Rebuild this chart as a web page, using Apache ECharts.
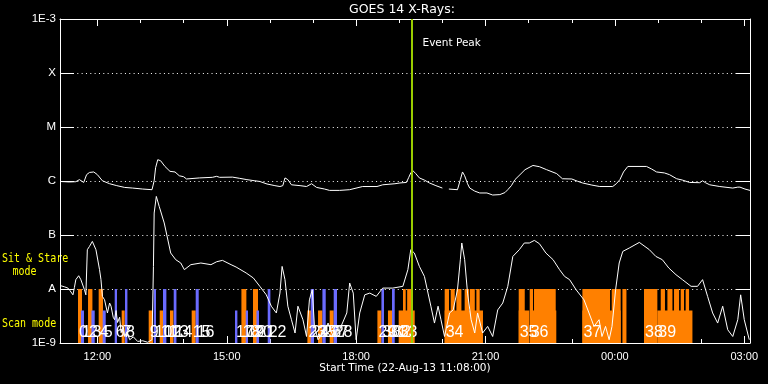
<!DOCTYPE html>
<html><head><meta charset="utf-8">
<script src="https://cdn.jsdelivr.net/npm/echarts@6/dist/echarts.min.js"></script>
<style>html,body{margin:0;padding:0;background:#000;}#c{width:768px;height:384px;}</style>
</head><body><div id="c"></div>
<script>
// time values are minutes after 00:00 on 22-Aug-13
const axisStart = 668;   // 11:08
const axisEnd = 1628;    // 03:08 next day
const majorTicks = [720, 900, 1080, 1260, 1440, 1620];
const minorTicks = [720,780,840,900,960,1020,1080,1140,1200,1260,1320,1380,1440,1500,1560,1620];
const yLevelNames = ['1E-9','A','B','C','M','X','1E-3'];
const eventPeak = 1157;

// GOES long channel (1-8 A), W/m^2
const longTimes = [668,681,690,695,701,705,709,715,720,727,737,747,758,769,783,796,798,799,801,804,808,814,821,828,834,840,844,862,880,886,890,908,918,928,939,946,956,967,974,978,981,985,990,1002,1011,1018,1025,1036,1043,1057,1071,1072,1089,1109,1117,1134,1141,1150,1153,1156,1159,1163,1168,1175,1182,1191,1200,1204,1209,1221,1225,1228,1231,1235,1238,1245,1252,1262,1270,1280,1287,1291,1296,1301,1308,1315,1326,1335,1345,1359,1367,1380,1388,1395,1408,1419,1437,1442,1447,1452,1458,1468,1484,1491,1498,1509,1516,1526,1534,1544,1558,1562,1566,1572,1586,1604,1611,1614,1621,1628];
const longFlux = [0.98e-6,0.96e-6,0.97e-6,1.06e-6,0.94e-6,1.31e-6,1.44e-6,1.47e-6,1.31e-6,1.01e-6,0.89e-6,0.82e-6,0.76e-6,0.74e-6,0.71e-6,0.69e-6,0.69e-6,1.01e-6,1.76e-6,2.48e-6,2.37e-6,1.86e-6,1.51e-6,1.47e-6,1.25e-6,1.20e-6,1.09e-6,1.14e-6,1.17e-6,1.22e-6,1.17e-6,1.18e-6,1.12e-6,1.06e-6,1.01e-6,0.98e-6,0.88e-6,0.82e-6,0.79e-6,0.82e-6,1.14e-6,1.06e-6,0.85e-6,0.82e-6,0.79e-6,0.89e-6,0.76e-6,0.71e-6,0.67e-6,0.67e-6,0.69e-6,0.75e-6,0.79e-6,0.79e-6,0.85e-6,0.89e-6,0.92e-6,0.94e-6,1.15e-6,1.41e-6,1.55e-6,1.37e-6,1.14e-6,1.04e-6,0.92e-6,0.82e-6,0.74e-6,null,0.71e-6,0.69e-6,1.06e-6,1.47e-6,1.25e-6,0.89e-6,0.74e-6,0.65e-6,0.60e-6,0.60e-6,0.55e-6,0.56e-6,0.61e-6,0.69e-6,0.82e-6,1.06e-6,1.31e-6,1.62e-6,1.94e-6,1.84e-6,1.62e-6,1.37e-6,1.10e-6,1.09e-6,0.99e-6,0.92e-6,0.84e-6,0.79e-6,0.79e-6,0.89e-6,1.06e-6,1.47e-6,1.86e-6,1.86e-6,1.86e-6,1.67e-6,1.47e-6,1.41e-6,1.31e-6,1.10e-6,1.04e-6,0.94e-6,0.93e-6,1.01e-6,0.93e-6,0.85e-6,0.79e-6,0.74e-6,0.77e-6,0.77e-6,0.71e-6,0.67e-6];

// GOES short channel (0.5-4 A), W/m^2
const shortTimes = [669,674,679,682,686,688,690,694,697,702,704,706,709,713,718,723,725,727,730,734,737,739,742,744,746,748,751,753,756,758,761,765,770,776,783,790,796,798,799,802,806,813,822,829,836,841,850,864,878,886,894,906,913,927,937,946,955,962,969,974,977,981,985,990,995,999,1006,1011,1015,1019,1022,1027,1034,1041,1048,1057,1067,1071,1076,1080,1085,1092,1099,1108,1117,1131,1145,1152,1156,1161,1168,1175,1180,1184,1189,1194,1198,1203,1210,1215,1221,1225,1227,1231,1235,1240,1245,1249,1256,1263,1270,1277,1284,1291,1298,1307,1314,1321,1328,1335,1344,1354,1363,1370,1377,1386,1397,1404,1411,1418,1422,1427,1432,1436,1441,1446,1451,1460,1474,1488,1497,1506,1515,1525,1534,1546,1555,1562,1569,1576,1583,1590,1597,1604,1611,1615,1620,1627];
const shortFlux = [1.15e-8,1.10e-8,1.04e-8,0.93e-8,0.78e-8,1.06e-8,1.49e-8,1.76e-8,1.49e-8,0.97e-8,0.78e-8,5.34e-8,6.15e-8,7.61e-8,5.34e-8,2.28e-8,1.49e-8,0.73e-8,0.63e-8,0.36e-8,0.55e-8,0.48e-8,0.30e-8,0.27e-8,0.40e-8,0.24e-8,0.30e-8,0.155e-8,0.20e-8,0.132e-8,0.16e-8,0.115e-8,0.13e-8,0.107e-8,0.11e-8,0.103e-8,0.115e-8,2.62e-8,25.5e-8,51.8e-8,33.9e-8,16.7e-8,4.64e-8,3.49e-8,3.03e-8,2.28e-8,2.82e-8,3.03e-8,2.82e-8,3.20e-8,3.39e-8,2.82e-8,2.55e-8,1.98e-8,1.60e-8,1.12e-8,0.78e-8,0.48e-8,0.36e-8,0.84e-8,2.62e-8,1.49e-8,0.48e-8,0.27e-8,0.153e-8,0.48e-8,0.27e-8,0.132e-8,0.63e-8,0.97e-8,0.203e-8,0.115e-8,0.153e-8,0.234e-8,0.132e-8,0.176e-8,0.36e-8,1.29e-8,0.84e-8,0.115e-8,0.36e-8,0.78e-8,0.84e-8,0.73e-8,1.04e-8,1.04e-8,1.12e-8,2.28e-8,5.34e-8,4.64e-8,2.62e-8,1.71e-8,0.84e-8,0.48e-8,0.234e-8,0.48e-8,0.27e-8,0.132e-8,0.36e-8,0.41e-8,0.97e-8,3.49e-8,7.11e-8,3.49e-8,0.84e-8,0.27e-8,0.153e-8,0.36e-8,0.153e-8,0.203e-8,0.132e-8,0.41e-8,0.55e-8,1.12e-8,4.01e-8,5.34e-8,7.11e-8,7.11e-8,7.94e-8,6.90e-8,4.64e-8,3.49e-8,2.28e-8,1.71e-8,1.49e-8,0.97e-8,0.63e-8,0.36e-8,0.203e-8,0.27e-8,0.132e-8,0.203e-8,0.115e-8,0.203e-8,0.97e-8,3.03e-8,4.97e-8,5.74e-8,7.29e-8,5.34e-8,4.01e-8,3.49e-8,2.45e-8,1.84e-8,1.49e-8,1.12e-8,1.12e-8,1.49e-8,0.73e-8,0.36e-8,0.234e-8,0.48e-8,0.176e-8,0.132e-8,0.27e-8,0.78e-8,0.27e-8,0.115e-8];

// observation bars
const barStart = [693,697.2,707,711.7,721.8,727.4,744.1,753.8,758.4,791.4,798.4,806.7,811.3,821,826.2,851.2,856.8,911.5,920.4,926.4,936.5,941.3,957,1012.2,1016.8,1027,1033.1,1043.2,1048.8,1109.6,1115.2,1124.3,1129.9,1139.2,1145.2,1151,1203.2,1203.2,1211.6,1219.5,1231,1238.1,1247.3,1306.2,1306.2,1321.5,1321.5,1327.5,1394.8,1394.8,1435.6,1450.5,1480.5,1499.1,1503.8,1513.1,1522.3,1531.6,1538.5];
const barEnd   = [698.6,701.4,713.1,716.3,727.8,731.6,747.3,758,761.8,797.4,801.6,811.3,816,825.8,830,856.8,861,914.8,927.3,929.6,943.5,944.9,960.7,1017.8,1021.4,1033.1,1037.7,1048.8,1053.4,1115.2,1118.8,1129.9,1133.7,1161.5,1149,1158,1256.5,1209.2,1217.2,1226.5,1237,1245.1,1251.9,1320.6,1314.6,1358.5,1326.1,1357.7,1448.1,1433.3,1448.1,1456.1,1499.1,1547.9,1509.7,1520.1,1529.3,1536.2,1543.2];
const barMode  = ['stare','scan','stare','scan','stare','scan','stare','scan','stare','scan','stare','scan','stare','scan','stare','scan','stare','scan','stare','scan','stare','scan','stare','scan','stare','scan','stare','scan','stare','scan','stare','scan','stare','scan','stare','stare','scan','stare','stare','stare','stare','stare','stare','scan','stare','scan','stare','stare','scan','stare','stare','stare','stare','scan','stare','stare','stare','stare','stare'];
const barColor = ['orange','blue','orange','blue','orange','blue','blue','orange','blue','orange','blue','orange','blue','orange','blue','orange','blue','blue','orange','blue','orange','blue','blue','orange','blue','orange','blue','orange','blue','orange','blue','orange','blue','orange','orange','orange','orange','orange','orange','orange','orange','orange','orange','orange','orange','orange','orange','orange','orange','orange','orange','orange','orange','orange','orange','orange','orange','orange','orange'];

// observation numbers
const obsLabels = ['0','1','2','3','4','5','6','7','8','9','10','11','12','13','14','15','16','17','18','19','20','21','22','23','24','25','26','27','28','29','30','31','32','33','34','35','36','37','38','39'];
const obsTimes = [693,697.2,707,711.7,721.8,727.4,744.1,753.8,758.4,791.4,798.4,806.7,811.3,821,826.2,851.2,856.8,911.5,920.4,926.4,936.5,941.3,957,1012.2,1016.8,1027,1033.1,1043.2,1048.8,1109.6,1115.2,1124.3,1129.9,1139.2,1203.2,1306.2,1321.5,1394.8,1480.5,1499.1];

const modeTop = {stare: 1e-8, scan: 4e-9};
const colorMap = {orange: '#ff8000', blue: '#6b6bff'};

function pad(n){ return (n < 10 ? '0' : '') + n; }
function fmtTime(v){ const h = Math.floor(v / 60) % 24; const m = Math.round(v % 60); return pad(h) + ':' + pad(m); }
function pairs(xs, ys){ return xs.map((x, i) => [x, ys[i] === null ? '-' : ys[i]]); }

const chart = echarts.init(document.getElementById('c'), null, {renderer: 'canvas'});
const white = '#ffffff';
const yellow = '#ffff00';
const xBase = {type: 'value', min: axisStart, max: axisEnd, gridIndex: 0, splitLine: {show: false}};

chart.setOption({
  backgroundColor: '#000000',
  animation: false,
  grid: {left: 60, right: 18, top: 19, bottom: 41, containLabel: false},
  xAxis: [
    Object.assign({}, xBase, {position: 'bottom',
      axisLine: {show: true, lineStyle: {color: white, width: 1}},
      axisTick: {show: true, inside: true, length: 7, customValues: majorTicks, lineStyle: {color: white}},
      axisLabel: {show: true, customValues: majorTicks, formatter: fmtTime, color: white, fontFamily: 'Liberation Sans', fontSize: 11, margin: 8}}),
    Object.assign({}, xBase, {position: 'bottom',
      axisLine: {show: false},
      axisTick: {show: true, inside: true, length: 4, customValues: minorTicks, lineStyle: {color: white}},
      axisLabel: {show: false}}),
    Object.assign({}, xBase, {position: 'top',
      axisLine: {show: true, lineStyle: {color: white, width: 1}},
      axisTick: {show: true, inside: true, length: 7, customValues: majorTicks, lineStyle: {color: white}},
      axisLabel: {show: false}}),
    Object.assign({}, xBase, {position: 'top',
      axisLine: {show: false},
      axisTick: {show: true, inside: true, length: 4, customValues: minorTicks, lineStyle: {color: white}},
      axisLabel: {show: false}})
  ],
  yAxis: [
    {type: 'log', logBase: 10, min: 1e-9, max: 1e-3, interval: 1, position: 'left',
      axisLine: {show: true, lineStyle: {color: white, width: 1}},
      axisTick: {show: true, inside: true, length: 14, lineStyle: {color: white}},
      axisLabel: {show: true, color: white, fontFamily: 'Liberation Sans', fontSize: 11.5, margin: 4,
        formatter: v => yLevelNames[Math.round(Math.log10(v)) + 9]},
      splitLine: {show: true, lineStyle: {color: white, width: 1, type: [1, 3.33]}}},
    {type: 'log', logBase: 10, min: 1e-9, max: 1e-3, interval: 1, position: 'right',
      axisLine: {show: true, lineStyle: {color: white, width: 1}},
      axisTick: {show: true, inside: true, length: 14, lineStyle: {color: white}},
      axisLabel: {show: false}, splitLine: {show: false}}
  ],
  series: [
    {type: 'custom', xAxisIndex: 0, yAxisIndex: 0, z: 2, clip: true,
      encode: {x: [0, 1], y: 2},
      data: barStart.map((s, i) => [s, barEnd[i], modeTop[barMode[i]], barColor[i] === 'orange' ? 0 : 1]),
      renderItem: function(params, api){
        const p0 = api.coord([api.value(0), api.value(2)]);
        const p1 = api.coord([api.value(1), 1e-9]);
        return {type: 'rect', shape: {x: p0[0], y: p0[1], width: p1[0] - p0[0], height: p1[1] - p0[1]},
          style: {fill: api.value(3) === 0 ? colorMap.orange : colorMap.blue}};
      }},
    {type: 'custom', xAxisIndex: 0, yAxisIndex: 0, z: 3,
      encode: {x: 0, y: 1},
      data: obsTimes.map((t, i) => [t, 1e-9, obsLabels[i]]),
      renderItem: function(params, api){
        const p = api.coord([api.value(0), 1e-9]);
        return {type: 'text', x: p[0] + 1, y: p[1] - 10,
          style: {text: obsLabels[params.dataIndex], fill: white, font: '16px "Liberation Sans"', textAlign: 'left', textVerticalAlign: 'middle'}};
      }},
    {type: 'line', xAxisIndex: 0, yAxisIndex: 0, z: 4, data: pairs(longTimes, longFlux),
      showSymbol: false, symbol: 'none', connectNulls: false, lineStyle: {color: white, width: 1}},
    {type: 'line', xAxisIndex: 0, yAxisIndex: 0, z: 4, data: pairs(shortTimes, shortFlux),
      showSymbol: false, symbol: 'none', lineStyle: {color: white, width: 1}},
    {type: 'line', xAxisIndex: 0, yAxisIndex: 0, z: 6, data: [],
      markLine: {silent: true, symbol: ['none', 'none'], label: {show: false},
        lineStyle: {color: '#99cc00', width: 2, type: 'solid'}, data: [{xAxis: eventPeak}]}}
  ],
  graphic: [
    {type: 'text', x: 402, y: 10, style: {text: 'GOES 14 X-Rays:', fill: white, font: '12.5px "DejaVu Sans"', textAlign: 'center', textVerticalAlign: 'middle'}},
    {type: 'text', x: 422.5, y: 43, style: {text: 'Event Peak', fill: white, font: '10.5px "DejaVu Sans"', textAlign: 'left', textVerticalAlign: 'middle'}},
    {type: 'text', x: 405, y: 368.5, style: {text: 'Start Time (22-Aug-13 11:08:00)', fill: white, font: '10.5px "DejaVu Sans"', textAlign: 'center', textVerticalAlign: 'middle'}},
    {type: 'text', x: 2, y: 258.5, scaleY: 1.3, style: {text: 'Sit & Stare', fill: yellow, font: '10px "DejaVu Sans Mono"', textAlign: 'left', textVerticalAlign: 'middle'}},
    {type: 'text', x: 12.5, y: 271.5, scaleY: 1.3, style: {text: 'mode', fill: yellow, font: '10px "DejaVu Sans Mono"', textAlign: 'left', textVerticalAlign: 'middle'}},
    {type: 'text', x: 2, y: 323.5, scaleY: 1.3, style: {text: 'Scan mode', fill: yellow, font: '10px "DejaVu Sans Mono"', textAlign: 'left', textVerticalAlign: 'middle'}}
  ]
});
</script></body></html>
